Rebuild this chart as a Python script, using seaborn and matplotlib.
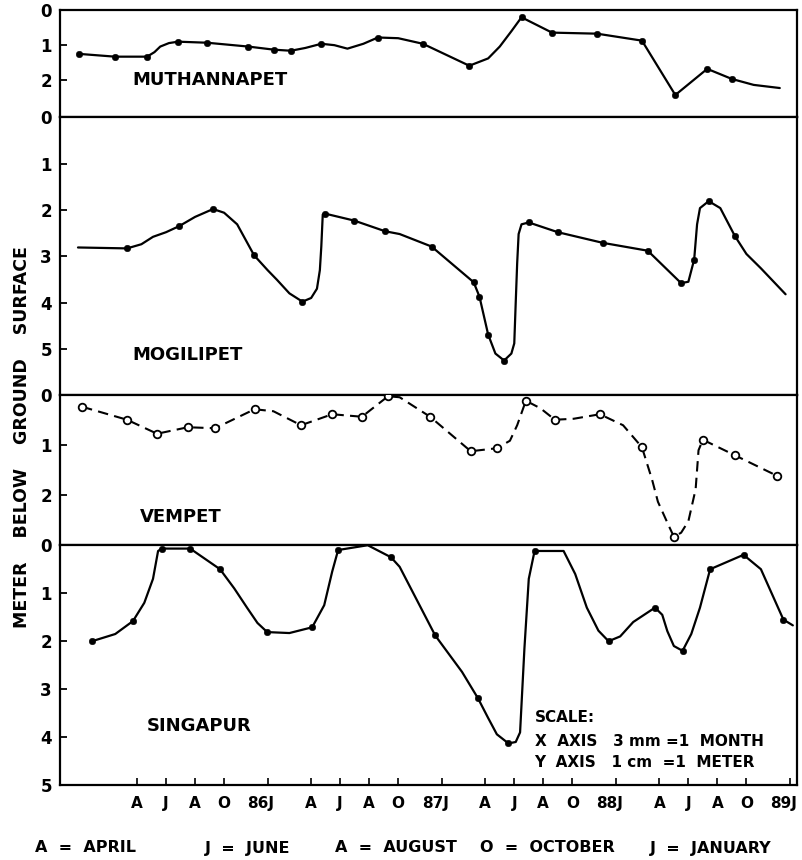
import matplotlib
matplotlib.use("Agg")
import matplotlib.pyplot as plt
import matplotlib.transforms as mtransforms
import seaborn as sns
import pandas as pd

# months counted from Jan 1985 (= 0), depth in metres below ground surface
# Muthannapet
mu_line_m = [-1.0, 1.48, 3.69, 4.2, 4.6, 5.2, 5.83, 7.83, 10.66, 12.45, 13.6, 14.6, 15.7, 16.6, 17.5,
             18.6, 19.6, 21.0, 22.7, 25.9, 27.2, 28.0, 28.8, 29.5, 31.6, 34.7, 37.8, 40.1,
             42.3, 44.0, 45.5, 47.3]
mu_line_d = [1.25, 1.33, 1.33, 1.2, 1.04, 0.94, 0.9, 0.93, 1.04, 1.13, 1.16, 1.08, 0.96, 1.0, 1.1,
             0.96, 0.78, 0.8, 0.96, 1.59, 1.38, 1.04, 0.6, 0.2, 0.64, 0.67, 0.87, 2.43,
             1.68, 1.97, 2.14, 2.23]
mu_pts_m = [-1.0, 1.48, 3.69, 5.83, 7.83, 10.66, 12.45, 13.6, 15.7, 19.6, 22.7, 25.9, 29.5,
            31.6, 34.7, 37.8, 40.1, 42.3, 44.0]
mu_pts_d = [1.25, 1.33, 1.33, 0.9, 0.93, 1.04, 1.13, 1.16, 0.96, 0.78, 0.96, 1.59, 0.2,
            0.64, 0.67, 0.87, 2.43, 1.68, 1.97]

# Mogilipet
mo_line_m = [-1.07, 2.31, 3.3, 4.1, 5.0, 5.9, 7.0, 8.24, 9.0, 9.9, 11.07, 12.0, 12.65, 13.5, 14.4,
             15.0, 15.4, 15.6, 15.7, 15.8, 15.97, 17.97, 20.1, 21.1, 23.3, 26.2, 26.6, 27.2,
             27.7, 28.3, 28.8, 29.0, 29.1, 29.2, 29.3, 29.5, 30.0, 32.0, 35.1, 38.2, 40.5,
             41.0, 41.4, 41.6, 41.8, 42.4, 43.2, 44.2, 45.0, 46.0, 47.7]
mo_line_d = [2.81, 2.83, 2.74, 2.58, 2.48, 2.35, 2.15, 1.98, 2.06, 2.31, 2.98, 3.3, 3.51, 3.8, 3.98,
             3.9, 3.7, 3.3, 2.79, 2.1, 2.08, 2.23, 2.46, 2.52, 2.79, 3.56, 3.87, 4.69,
             5.1, 5.25, 5.1, 4.88, 4.0, 3.15, 2.52, 2.31, 2.27, 2.48, 2.71, 2.88, 3.58,
             3.55, 3.07, 2.31, 1.96, 1.81, 1.96, 2.56, 2.95, 3.26, 3.82]
mo_pts_m = [2.31, 5.9, 8.24, 11.07, 14.4, 15.97, 17.97, 20.1, 23.3, 26.2, 26.6, 27.2, 28.3,
            30.0, 32.0, 35.1, 38.2, 40.5, 41.4, 42.4, 44.2]
mo_pts_d = [2.83, 2.35, 1.98, 2.98, 3.98, 2.08, 2.23, 2.46, 2.79, 3.56, 3.87, 4.69, 5.25,
            2.27, 2.48, 2.71, 2.88, 3.58, 3.07, 1.81, 2.56]

# Vempet
ve_line_m = [-0.79, 2.31, 4.38, 6.5, 8.38, 11.1, 12.4, 14.3, 16.45, 18.5, 20.3, 21.1, 23.2, 26.0,
             27.8, 28.7, 29.2, 29.8, 30.8, 31.8, 33.1, 34.9, 36.5, 37.8, 38.5, 38.9, 39.6, 40.0,
             40.5, 41.0, 41.5, 41.7, 42.0, 44.2, 47.1]
ve_line_d = [0.23, 0.49, 0.77, 0.64, 0.66, 0.28, 0.32, 0.6, 0.38, 0.43, 0.02, 0.04, 0.43, 1.12,
             1.06, 0.91, 0.6, 0.11, 0.26, 0.49, 0.47, 0.38, 0.6, 1.04, 1.69, 2.13, 2.58, 2.83,
             2.75, 2.52, 1.88, 1.1, 0.89, 1.2, 1.61]
ve_pts_m = [-0.79, 2.31, 4.38, 6.5, 8.38, 11.1, 14.3, 16.45, 18.5, 20.3, 23.2, 26.0, 27.8,
            29.8, 31.8, 34.9, 37.8, 40.0, 42.0, 44.2, 47.1]
ve_pts_d = [0.23, 0.49, 0.77, 0.64, 0.66, 0.28, 0.6, 0.38, 0.43, 0.02, 0.43, 1.12, 1.06,
            0.11, 0.49, 0.38, 1.04, 2.83, 0.89, 1.2, 1.61]

# Singapur
si_line_m = [-0.1, 1.5, 2.72, 3.5, 4.1, 4.45, 4.7, 6.66, 8.72, 9.7, 10.6, 11.3, 11.97, 13.5, 15.07,
             15.9, 16.45, 16.86, 18.9, 20.5, 21.1, 22.3, 23.55, 25.4, 26.5, 27.2, 27.8, 28.6,
             29.1, 29.4, 29.7, 30.0, 30.4, 32.4, 33.2, 34.0, 34.8, 35.5, 36.3, 37.2, 38.7,
             39.2, 39.55, 40.0, 40.6, 41.2, 41.8, 42.5, 44.8, 46.0, 47.55, 48.2]
si_line_d = [2.0, 1.85, 1.58, 1.2, 0.7, 0.12, 0.07, 0.07, 0.5, 0.9, 1.31, 1.62, 1.81, 1.83, 1.71,
             1.25, 0.55, 0.1, 0.0, 0.25, 0.45, 1.15, 1.88, 2.64, 3.19, 3.6, 3.94, 4.13,
             4.1, 3.9, 2.15, 0.7, 0.12, 0.12, 0.6, 1.3, 1.78, 2.0, 1.9, 1.6, 1.3,
             1.45, 1.79, 2.1, 2.2, 1.85, 1.3, 0.5, 0.2, 0.5, 1.55, 1.67]
si_pts_m = [-0.1, 2.72, 4.7, 6.66, 8.72, 11.97, 15.07, 16.86, 20.5, 23.55, 26.5, 28.6, 30.4,
            35.5, 38.7, 40.6, 42.5, 44.8, 47.55]
si_pts_d = [2.0, 1.58, 0.07, 0.07, 0.5, 1.81, 1.71, 0.1, 0.25, 1.88, 3.19, 4.13, 0.12,
            2.0, 1.3, 2.2, 0.5, 0.2, 1.55]

tick_m = [3, 5, 7, 9, 12, 15, 17, 19, 21, 24, 27, 29, 31, 33, 36, 39, 41, 43, 45, 48]
tick_lab = ["A", "J", "A", "O", "86J", "A", "J", "A", "O", "87J",
            "A", "J", "A", "O", "88J", "A", "J", "A", "O", "89J"]

sns.set_style("ticks")
plt.rcParams["font.family"] = ["DejaVu Sans"]
plt.rcParams["font.weight"] = "bold"
plt.rcParams["text.color"] = "black"
plt.rcParams["xtick.color"] = "black"
plt.rcParams["ytick.color"] = "black"

fig = plt.figure(figsize=(8.02, 8.6), dpi=100)
gs = fig.add_gridspec(4, 1, height_ratios=[107, 278, 150, 240], hspace=0,
                      left=0.075, right=0.994, top=0.988, bottom=0.087)
axes = [fig.add_subplot(gs[i]) for i in range(4)]

panels = [
    ("MUTHANNAPET", mu_line_m, mu_line_d, mu_pts_m, mu_pts_d, 3.07, [0, 1, 2], 2.7, 2.0),
    ("MOGILIPET", mo_line_m, mo_line_d, mo_pts_m, mo_pts_d, 6.0, [0, 1, 2, 3, 4, 5], 2.7, 5.14),
    ("VEMPET", ve_line_m, ve_line_d, ve_pts_m, ve_pts_d, 3.0, [0, 1, 2], 3.2, 2.44),
    ("SINGAPUR", si_line_m, si_line_d, si_pts_m, si_pts_d, 5.0, [0, 1, 2, 3, 4, 5], 3.7, 3.77),
]

for i, (ax, (name, lm, ld, pm, pd_, ymax, yt, tx, ty)) in enumerate(zip(axes, panels)):
    line = pd.DataFrame({"m": lm, "d": ld})
    pts = pd.DataFrame({"m": pm, "d": pd_})
    if name == "VEMPET":
        sns.lineplot(data=line, x="m", y="d", ax=ax, color="black", lw=1.5,
                     sort=False, estimator=None, dashes=False, linestyle=(0, (5, 3)))
        sns.scatterplot(data=pts, x="m", y="d", ax=ax, s=30, color="white",
                        edgecolor="black", linewidth=1.3, zorder=3)
    else:
        sns.lineplot(data=line, x="m", y="d", ax=ax, color="black", lw=1.6,
                     sort=False, estimator=None)
        sns.scatterplot(data=pts, x="m", y="d", ax=ax, s=22, color="black",
                        edgecolor="black", zorder=3)
    ax.set_xlim(-2.3, 48.5)
    ax.set_ylim(ymax, 0)
    ax.set_yticks(yt)
    ax.set_yticklabels([str(v) for v in yt], fontsize=12, fontweight="bold")
    ax.tick_params(axis="y", direction="in", length=5, width=1.3, pad=6)
    ax.set_xlabel("")
    ax.set_ylabel("")
    for sp in ax.spines.values():
        sp.set_visible(True)
        sp.set_linewidth(1.6)
        sp.set_color("black")
    ax.text(tx, ty, name, fontsize=13, fontweight="bold", va="center", ha="left")
    if i < 3:
        ax.set_xticks([])

ax = axes[3]
ax.set_xticks(tick_m)
ax.set_xticklabels(tick_lab, fontsize=11, fontweight="bold")
ax.tick_params(axis="x", direction="in", length=5, width=1.2, pad=8)
shift = mtransforms.ScaledTranslation(5 / 72, 0, fig.dpi_scale_trans)
for lab in ax.get_xticklabels():
    if len(lab.get_text()) > 1:
        lab.set_horizontalalignment("right")
        lab.set_transform(lab.get_transform() + shift)

ax.text(30.4, 3.58, "SCALE:", fontsize=11, fontweight="bold", va="center")
ax.text(30.4, 4.08, "X  AXIS   3 mm =1  MONTH", fontsize=11, fontweight="bold", va="center")
ax.text(30.4, 4.52, "Y  AXIS   1 cm  =1  METER", fontsize=11, fontweight="bold", va="center")

fig.text(0.027, 1 - 437 / 860, "METER    BELOW    GROUND    SURFACE", rotation=90,
         fontsize=12.5, fontweight="bold", ha="center", va="center")

legend_items = [("A  =  APRIL", 35), ("J  =  JUNE", 205), ("A  =  AUGUST", 335),
                ("O  =  OCTOBER", 480), ("J  =  JANUARY", 650)]
for txt, xp in legend_items:
    fig.text(xp / 802, 1 - 848 / 860, txt, fontsize=11.5, fontweight="bold", va="center")

fig.savefig("out.png", dpi=100)
